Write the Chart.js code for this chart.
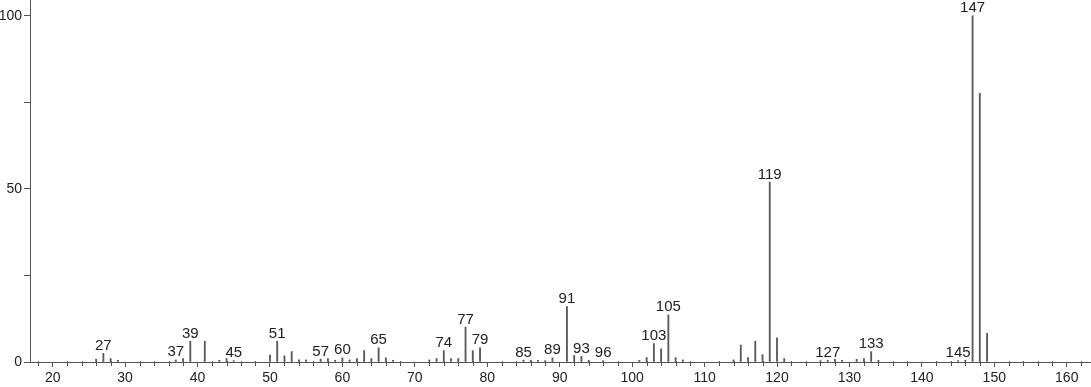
<!DOCTYPE html>
<html><head><meta charset="utf-8">
<script src="https://cdn.jsdelivr.net/npm/chart.js@4.4.1/dist/chart.umd.min.js"></script>
<style>html,body{margin:0;padding:0;background:#fff}#wrap{width:1091px;height:387px;position:relative}</style>
</head><body><div id="wrap"><canvas id="c" width="1091" height="387"></canvas></div>
<script>
// m/z values and relative intensities (%)
const mzValues = [26,27,28,29,37,38,39,41,43,44,45,50,51,52,53,54,55,57,58,59,60,61,62,63,64,65,66,67,72,73,74,75,76,77,78,79,85,86,87,88,89,91,92,93,94,96,101,102,103,104,105,106,107,114,115,116,117,118,119,120,121,126,127,128,129,131,132,133,134,145,146,147,148,149];
const intensities = [0.8,2.5,1.0,0.5,0.6,1.0,6.0,6.0,0.5,1.0,0.4,2.0,6.0,1.8,3.0,0.6,0.6,0.8,1.0,0.5,1.2,0.6,1.0,3.3,1.0,4.1,1.2,0.5,0.6,1.0,3.3,1.0,1.0,10.1,3.3,4.1,0.5,0.5,0.5,0.4,1.2,16.0,1.9,1.6,0.5,0.4,0.5,1.3,5.3,3.8,13.6,1.3,0.6,0.6,4.9,1.3,6.0,2.1,52.0,7.0,1.0,0.4,0.5,0.8,0.5,0.8,1.0,3.0,0.5,0.4,0.5,100,77.6,8.3];
const labeledPeaks = [27,37,39,45,51,57,60,65,74,77,79,85,89,91,93,96,103,105,119,127,133,145,147];
const xTickValues = [20,30,40,50,60,70,80,90,100,110,120,130,140,150,160];
const yTickValues = [0,25,50,75,100];
const yTickLabels = ['0','','50','','100'];

const FONT = '"Liberation Sans", Arial, Helvetica, sans-serif';
const AXIS = '#555';
const TEXT = '#222';

const points = mzValues.map((m, i) => ({x: m, y: intensities[i]}));

const peakLabelPlugin = {
  id: 'peakLabels',
  afterDatasetsDraw(chart) {
    const ctx = chart.ctx, xs = chart.scales.x, ys = chart.scales.y;
    ctx.save();
    ctx.font = '15px ' + FONT;
    ctx.fillStyle = TEXT;
    ctx.textAlign = 'center';
    ctx.textBaseline = 'alphabetic';
    labeledPeaks.forEach(m => {
      const idx = mzValues.indexOf(m);
      const v = idx >= 0 ? intensities[idx] : 0;
      ctx.fillText(String(m), xs.getPixelForValue(m), ys.getPixelForValue(v) - 3.5);
    });
    ctx.restore();
  }
};

const minorTickPlugin = {
  id: 'minorTicks',
  afterDraw(chart) {
    const ctx = chart.ctx, xs = chart.scales.x;
    const b = chart.chartArea.bottom;
    ctx.save();
    ctx.strokeStyle = AXIS;
    ctx.lineWidth = 1;
    ctx.beginPath();
    for (let v = 18; v <= 162; v += 2) {
      if (v % 10 === 0) continue;
      const px = Math.round(xs.getPixelForValue(v)) + 0.5;
      ctx.moveTo(px, b - 1);
      ctx.lineTo(px, b + 4);
    }
    ctx.stroke();
    ctx.restore();
  }
};

new Chart(document.getElementById('c'), {
  type: 'bar',
  data: { datasets: [{ data: points, backgroundColor: '#5a5a5a', borderWidth: 0, barThickness: 1.2, grouped: false }] },
  options: {
    responsive: false,
    animation: false,
    devicePixelRatio: 1,
    layout: { padding: 0 },
    plugins: { legend: { display: false }, tooltip: { enabled: false } },
    scales: {
      x: {
        type: 'linear',
        offset: false,
        min: 16.87, max: 163.35,
        afterBuildTicks: s => { s.ticks = xTickValues.map(v => ({value: v})); },
        afterFit: s => { s.height = 25; s.paddingLeft = 0; s.paddingRight = 0; },
        grid: { offset: false, drawOnChartArea: false, drawTicks: true, tickLength: 5, tickColor: AXIS, tickWidth: 1 },
        border: { display: true, color: AXIS, width: 1 },
        ticks: { color: TEXT, font: { family: FONT, size: 14 }, padding: 3, maxRotation: 0, autoSkip: false }
      },
      y: {
        type: 'linear',
        min: 0, max: 104.6,
        afterBuildTicks: s => { s.ticks = yTickValues.map(v => ({value: v})); },
        afterFit: s => { s.width = 30; s.paddingTop = 0; s.paddingBottom = 0; },
        grid: { drawOnChartArea: false, drawTicks: true, tickLength: 6, tickColor: AXIS, tickWidth: 1 },
        border: { display: true, color: AXIS, width: 1 },
        ticks: { color: TEXT, font: { family: FONT, size: 14 }, padding: 2, autoSkip: false,
          callback: (v, i) => yTickLabels[yTickValues.indexOf(v)] ?? '' }
      }
    }
  },
  plugins: [peakLabelPlugin, minorTickPlugin]
});
</script>
</body></html>
